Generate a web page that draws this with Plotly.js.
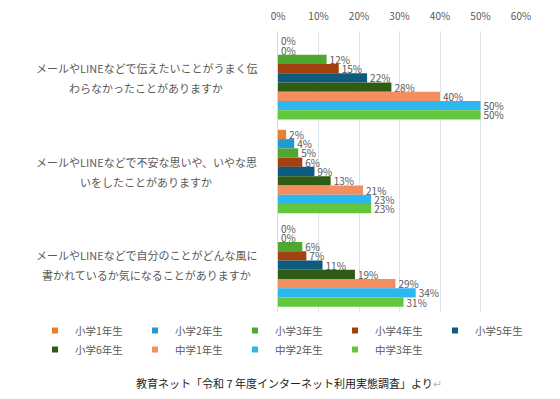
<!DOCTYPE html>
<html>
<head>
<meta charset="utf-8">
<script src="https://cdn.plot.ly/plotly-3.0.1.min.js"></script>
<style>html,body{margin:0;padding:0;background:#fff;}#chart{width:560px;height:399px;}</style>
</head>
<body>
<div id="chart"></div>
<script>
const categories = [
  'メールやLINEなどで伝えたいことがうまく伝\nわらなかったことがありますか',
  'メールやLINEなどで不安な思いや、いやな思\nいをしたことがありますか',
  'メールやLINEなどで自分のことがどんな風に\n書かれているか気になることがありますか'
];
const seriesNames = ['小学1年生','小学2年生','小学3年生','小学4年生','小学5年生','小学6年生','中学1年生','中学2年生','中学3年生'];
const s1 = [0, 2, 0];
const s2 = [0, 4, 0];
const s3 = [12, 5, 6];
const s4 = [15, 6, 7];
const s5 = [22, 9, 11];
const s6 = [28, 13, 19];
const s7 = [40, 21, 29];
const s8 = [50, 23, 34];
const s9 = [50, 23, 31];
const seriesValues = [s1, s2, s3, s4, s5, s6, s7, s8, s9];
const colors = ['#ED7D31','#1E9BD7','#4EA72E','#A3400F','#0F5B80','#2E5C16','#F28E60','#2DB7F0','#62C73C'];
const xTicks = [0, 10, 20, 30, 40, 50, 60];
const footer = '教育ネット「令和 7 年度インターネット利用実態調査」より<span style="color:#bbb">↵</span>';

const FONT = '"Noto Sans CJK JP", "Noto Sans", sans-serif';
const W = 560, H = 399, ML = 278, MR = 39, MT = 31, MB = 87;
const PW = W - ML - MR, PH = H - MT - MB;
const px2x = px => (px - ML) / PW;
const py2y = py => (H - MB - py) / PH;

const traces = [];
seriesValues.forEach((vals, i) => {
  traces.push({
    type: 'bar', orientation: 'h', name: seriesNames[i],
    y: categories, x: vals,
    marker: {color: colors[i]},
    text: vals.map(v => v + '%'), textposition: 'outside',
    textfont: {size: 10, color: '#595959', family: FONT},
    constraintext: 'none', cliponaxis: false,
    showlegend: false, hoverinfo: 'skip'
  });
});
seriesNames.forEach((n, i) => {
  traces.push({
    type: 'scatter', mode: 'markers', name: n,
    x: [null], y: [null],
    marker: {symbol: 'square', size: 6, color: colors[i]},
    showlegend: true
  });
});

const annotations = [];
categories.forEach(c => {
  const lines = c.split('\n');
  lines.forEach((ln, k) => {
    annotations.push({
      xref: 'paper', yref: 'y', x: px2x(146), y: c,
      text: ln, showarrow: false, xanchor: 'center', yanchor: 'middle',
      yshift: k === 0 ? 10 : -10,
      font: {size: 11, color: '#595959', family: FONT}
    });
  });
});
annotations.push({
  xref: 'paper', yref: 'paper', x: px2x(289), y: py2y(383), yanchor: 'middle',
  text: footer, showarrow: false, xanchor: 'center',
  font: {size: 11, color: '#222', family: FONT}
});

const layout = {
  width: W, height: H,
  margin: {l: ML, r: MR, t: MT, b: MB},
  paper_bgcolor: '#fff', plot_bgcolor: '#fff',
  barmode: 'group', bargap: 0.11, bargroupgap: 0,
  font: {family: FONT, color: '#595959', size: 10},
  xaxis: {
    side: 'top', range: [0, 60], tickvals: xTicks, ticktext: xTicks.map(v => v + '%'),
    showgrid: true, gridcolor: '#DCE4EE', gridwidth: 1,
    zeroline: false, ticks: 'outside', ticklen: 6, tickcolor: 'rgba(0,0,0,0)',
    tickfont: {size: 10, color: '#595959', family: FONT}, fixedrange: true
  },
  yaxis: {
    autorange: 'reversed', showticklabels: false, showgrid: false,
    showline: true, linecolor: '#D9D9D9', linewidth: 1, zeroline: false, ticks: ''
  },
  legend: {
    orientation: 'h', xref: 'paper', yref: 'paper',
    x: px2x(35), y: py2y(316), xanchor: 'left', yanchor: 'top',
    entrywidth: 55, entrywidthmode: 'pixels', itemwidth: 30,
    font: {size: 10.5, color: '#595959', family: FONT},
    tracegroupgap: 0
  },
  annotations: annotations
};
Plotly.newPlot('chart', traces, layout, {displayModeBar: false, staticPlot: true});
</script>
</body>
</html>
